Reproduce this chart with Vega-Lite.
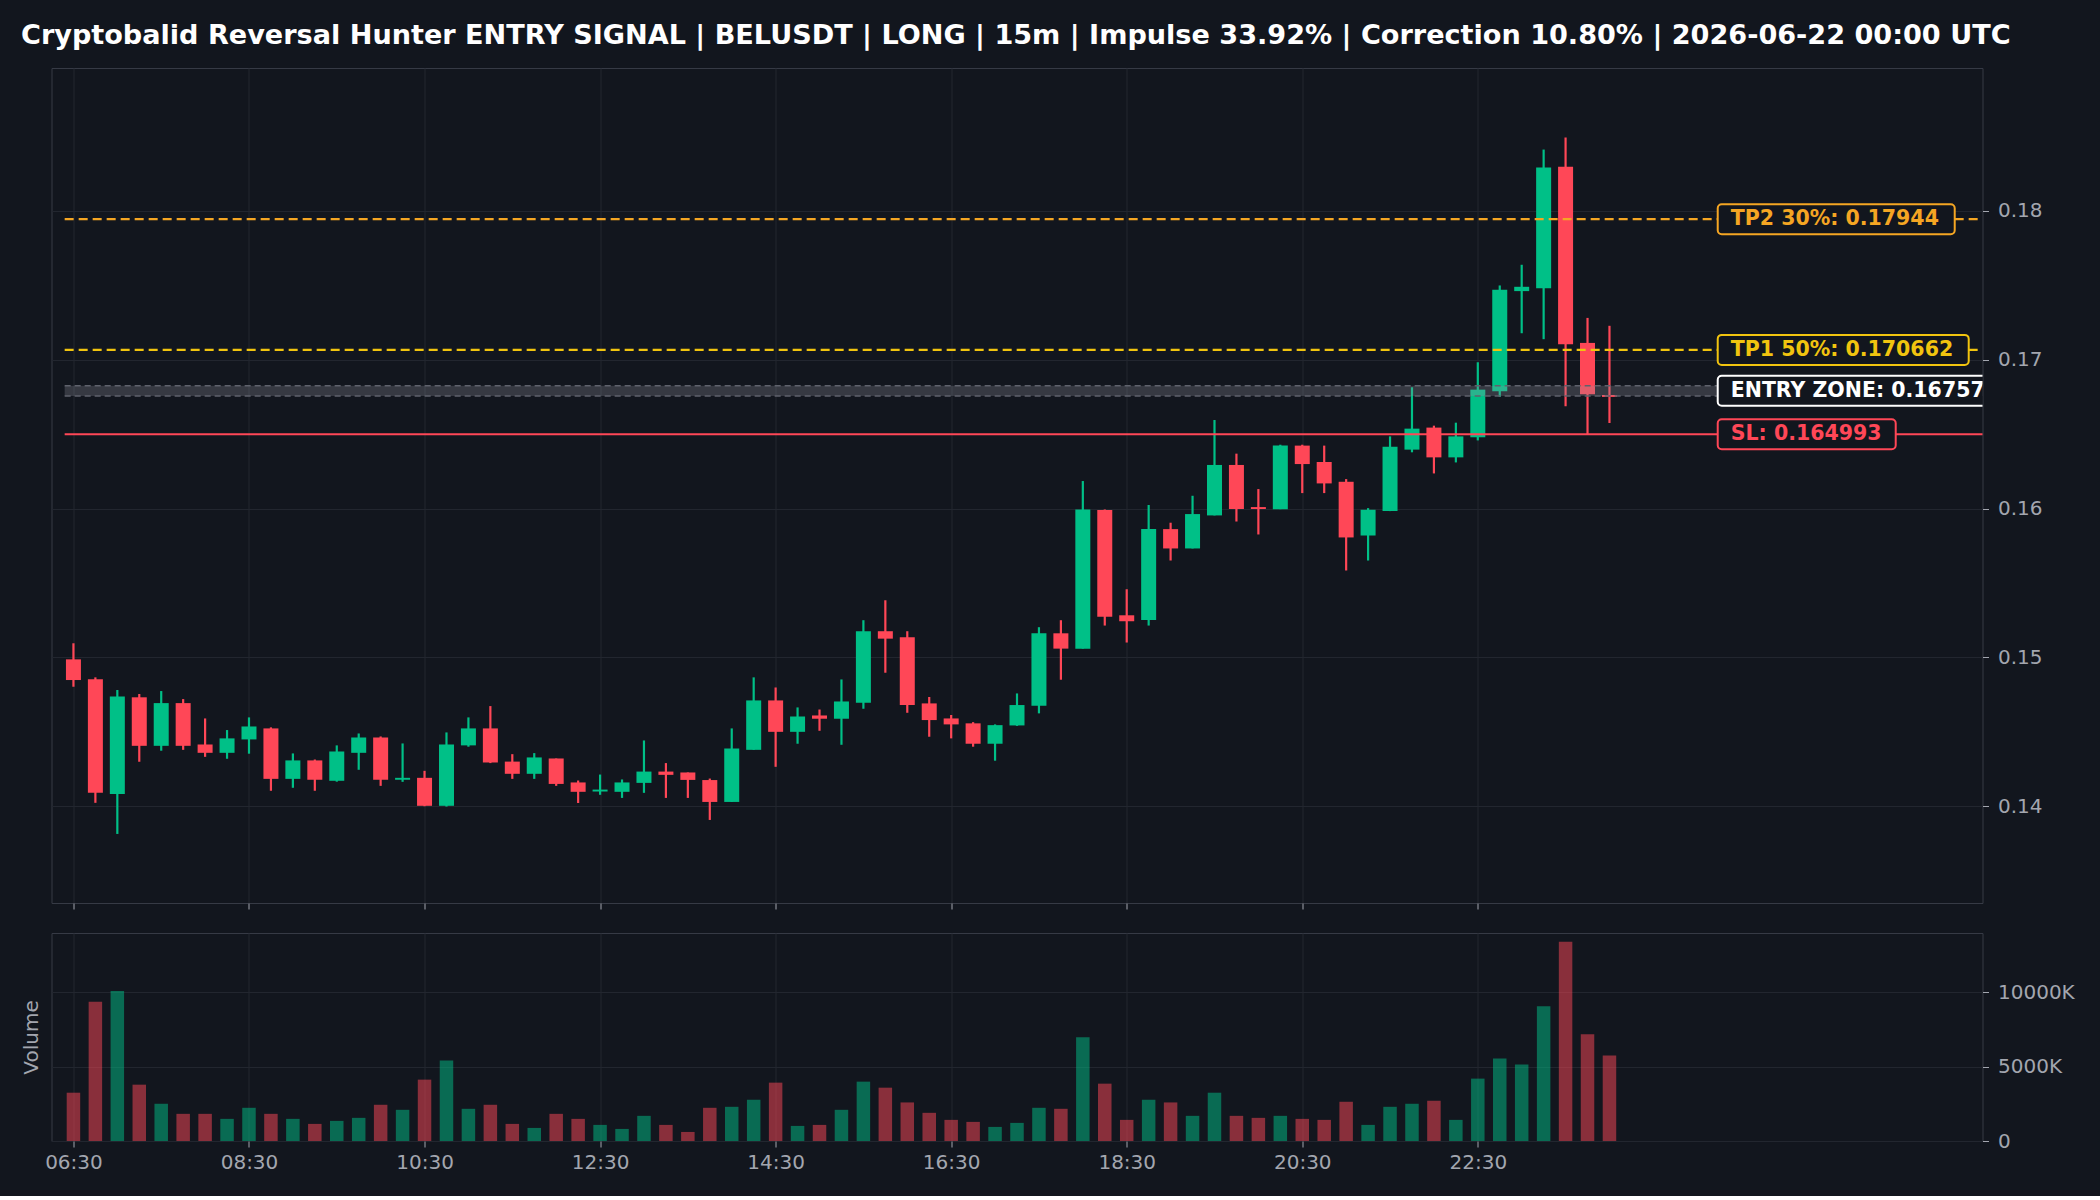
{
  "$schema": "https://vega.github.io/schema/vega-lite/v6.json",
  "background": "#12161e",
  "padding": {"left": 20.5, "top": 22, "right": 24.5, "bottom": 23},
  "bounds": "flush",
  "spacing": 30,
  "title": {
    "text": "Cryptobalid Reversal Hunter ENTRY SIGNAL | BELUSDT | LONG | 15m | Impulse 33.92% | Correction 10.80% | 2026-06-22 00:00 UTC",
    "anchor": "start",
    "frame": "bounds",
    "font": "DejaVu Sans",
    "fontSize": 27.1,
    "fontWeight": "bold",
    "color": "#ffffff",
    "offset": 17
  },
  "config": {
    "font": "DejaVu Sans",
    "view": {"stroke": "#363a45", "strokeWidth": 1},
    "axis": {
      "labelFont": "DejaVu Sans",
      "labelFontSize": 20,
      "labelColor": "#a3a6af",
      "tickColor": "#a3a6af",
      "tickSize": 6,
      "tickWidth": 1,
      "domain": false,
      "gridColor": "#22262f",
      "gridWidth": 1,
      "titleFont": "DejaVu Sans",
      "titleFontSize": 20,
      "titleFontWeight": "normal",
      "titleColor": "#a3a6af"
    }
  },
  "datasets": {
    "candles": [
      {"t": "2026-06-21T06:30Z", "o": 0.14987, "h": 0.15095, "l": 0.14803, "c": 0.14848, "v": 3251000},
      {"t": "2026-06-21T06:45Z", "o": 0.14853, "h": 0.14866, "l": 0.14023, "c": 0.14090, "v": 9368000},
      {"t": "2026-06-21T07:00Z", "o": 0.14083, "h": 0.14781, "l": 0.13814, "c": 0.14738, "v": 10090000},
      {"t": "2026-06-21T07:15Z", "o": 0.14732, "h": 0.14754, "l": 0.14299, "c": 0.14406, "v": 3792000},
      {"t": "2026-06-21T07:30Z", "o": 0.14406, "h": 0.14774, "l": 0.14373, "c": 0.14693, "v": 2506000},
      {"t": "2026-06-21T07:45Z", "o": 0.14693, "h": 0.14720, "l": 0.14379, "c": 0.14406, "v": 1828000},
      {"t": "2026-06-21T08:00Z", "o": 0.14415, "h": 0.14590, "l": 0.14332, "c": 0.14359, "v": 1828000},
      {"t": "2026-06-21T08:15Z", "o": 0.14359, "h": 0.14512, "l": 0.14319, "c": 0.14456, "v": 1490000},
      {"t": "2026-06-21T08:30Z", "o": 0.14449, "h": 0.14597, "l": 0.14353, "c": 0.14536, "v": 2235000},
      {"t": "2026-06-21T08:45Z", "o": 0.14523, "h": 0.14530, "l": 0.14104, "c": 0.14184, "v": 1828000},
      {"t": "2026-06-21T09:00Z", "o": 0.14184, "h": 0.14355, "l": 0.14124, "c": 0.14308, "v": 1490000},
      {"t": "2026-06-21T09:15Z", "o": 0.14308, "h": 0.14314, "l": 0.14104, "c": 0.14178, "v": 1151000},
      {"t": "2026-06-21T09:30Z", "o": 0.14171, "h": 0.14409, "l": 0.14165, "c": 0.14368, "v": 1354000},
      {"t": "2026-06-21T09:45Z", "o": 0.14359, "h": 0.14489, "l": 0.14245, "c": 0.14462, "v": 1558000},
      {"t": "2026-06-21T10:00Z", "o": 0.14462, "h": 0.14469, "l": 0.14137, "c": 0.14178, "v": 2438000},
      {"t": "2026-06-21T10:15Z", "o": 0.14178, "h": 0.14422, "l": 0.14164, "c": 0.14191, "v": 2099000},
      {"t": "2026-06-21T10:30Z", "o": 0.14191, "h": 0.14238, "l": 0.14000, "c": 0.14003, "v": 4131000},
      {"t": "2026-06-21T10:45Z", "o": 0.14003, "h": 0.14496, "l": 0.13998, "c": 0.14415, "v": 5418000},
      {"t": "2026-06-21T11:00Z", "o": 0.14409, "h": 0.14597, "l": 0.14400, "c": 0.14523, "v": 2167000},
      {"t": "2026-06-21T11:15Z", "o": 0.14523, "h": 0.14673, "l": 0.14290, "c": 0.14294, "v": 2438000},
      {"t": "2026-06-21T11:30Z", "o": 0.14300, "h": 0.14350, "l": 0.14184, "c": 0.14218, "v": 1151000},
      {"t": "2026-06-21T11:45Z", "o": 0.14218, "h": 0.14357, "l": 0.14184, "c": 0.14328, "v": 880000},
      {"t": "2026-06-21T12:00Z", "o": 0.14321, "h": 0.14321, "l": 0.14137, "c": 0.14150, "v": 1828000},
      {"t": "2026-06-21T12:15Z", "o": 0.14160, "h": 0.14173, "l": 0.14022, "c": 0.14097, "v": 1490000},
      {"t": "2026-06-21T12:30Z", "o": 0.14099, "h": 0.14213, "l": 0.14077, "c": 0.14112, "v": 1084000},
      {"t": "2026-06-21T12:45Z", "o": 0.14097, "h": 0.14180, "l": 0.14056, "c": 0.14160, "v": 813000},
      {"t": "2026-06-21T13:00Z", "o": 0.14157, "h": 0.14442, "l": 0.14090, "c": 0.14233, "v": 1693000},
      {"t": "2026-06-21T13:15Z", "o": 0.14233, "h": 0.14290, "l": 0.14056, "c": 0.14211, "v": 1084000},
      {"t": "2026-06-21T13:30Z", "o": 0.14227, "h": 0.14227, "l": 0.14056, "c": 0.14177, "v": 609000},
      {"t": "2026-06-21T13:45Z", "o": 0.14176, "h": 0.14186, "l": 0.13908, "c": 0.14029, "v": 2235000},
      {"t": "2026-06-21T14:00Z", "o": 0.14029, "h": 0.14523, "l": 0.14029, "c": 0.14388, "v": 2302000},
      {"t": "2026-06-21T14:15Z", "o": 0.14379, "h": 0.14866, "l": 0.14379, "c": 0.14711, "v": 2777000},
      {"t": "2026-06-21T14:30Z", "o": 0.14711, "h": 0.14798, "l": 0.14265, "c": 0.14500, "v": 3928000},
      {"t": "2026-06-21T14:45Z", "o": 0.14500, "h": 0.14664, "l": 0.14420, "c": 0.14603, "v": 1016000},
      {"t": "2026-06-21T15:00Z", "o": 0.14610, "h": 0.14650, "l": 0.14507, "c": 0.14588, "v": 1084000},
      {"t": "2026-06-21T15:15Z", "o": 0.14588, "h": 0.14852, "l": 0.14413, "c": 0.14704, "v": 2099000},
      {"t": "2026-06-21T15:30Z", "o": 0.14695, "h": 0.15250, "l": 0.14655, "c": 0.15175, "v": 3995000},
      {"t": "2026-06-21T15:45Z", "o": 0.15176, "h": 0.15384, "l": 0.14897, "c": 0.15126, "v": 3589000},
      {"t": "2026-06-21T16:00Z", "o": 0.15135, "h": 0.15176, "l": 0.14628, "c": 0.14680, "v": 2596000},
      {"t": "2026-06-21T16:15Z", "o": 0.14691, "h": 0.14734, "l": 0.14467, "c": 0.14579, "v": 1896000},
      {"t": "2026-06-21T16:30Z", "o": 0.14590, "h": 0.14613, "l": 0.14456, "c": 0.14550, "v": 1422000},
      {"t": "2026-06-21T16:45Z", "o": 0.14557, "h": 0.14565, "l": 0.14400, "c": 0.14420, "v": 1287000},
      {"t": "2026-06-21T17:00Z", "o": 0.14420, "h": 0.14550, "l": 0.14306, "c": 0.14545, "v": 948000},
      {"t": "2026-06-21T17:15Z", "o": 0.14543, "h": 0.14758, "l": 0.14540, "c": 0.14680, "v": 1219000},
      {"t": "2026-06-21T17:30Z", "o": 0.14676, "h": 0.15203, "l": 0.14624, "c": 0.15162, "v": 2235000},
      {"t": "2026-06-21T17:45Z", "o": 0.15162, "h": 0.15250, "l": 0.14850, "c": 0.15059, "v": 2167000},
      {"t": "2026-06-21T18:00Z", "o": 0.15059, "h": 0.16185, "l": 0.15059, "c": 0.15994, "v": 6975000},
      {"t": "2026-06-21T18:15Z", "o": 0.15990, "h": 0.15994, "l": 0.15214, "c": 0.15274, "v": 3860000},
      {"t": "2026-06-21T18:30Z", "o": 0.15283, "h": 0.15458, "l": 0.15100, "c": 0.15243, "v": 1422000},
      {"t": "2026-06-21T18:45Z", "o": 0.15252, "h": 0.16024, "l": 0.15214, "c": 0.15862, "v": 2777000},
      {"t": "2026-06-21T19:00Z", "o": 0.15862, "h": 0.15905, "l": 0.15651, "c": 0.15732, "v": 2596000},
      {"t": "2026-06-21T19:15Z", "o": 0.15732, "h": 0.16086, "l": 0.15732, "c": 0.15963, "v": 1693000},
      {"t": "2026-06-21T19:30Z", "o": 0.15954, "h": 0.16595, "l": 0.15954, "c": 0.16293, "v": 3251000},
      {"t": "2026-06-21T19:45Z", "o": 0.16293, "h": 0.16369, "l": 0.15913, "c": 0.15997, "v": 1693000},
      {"t": "2026-06-21T20:00Z", "o": 0.16010, "h": 0.16131, "l": 0.15826, "c": 0.15997, "v": 1558000},
      {"t": "2026-06-21T20:15Z", "o": 0.15996, "h": 0.16429, "l": 0.15996, "c": 0.16423, "v": 1693000},
      {"t": "2026-06-21T20:30Z", "o": 0.16423, "h": 0.16429, "l": 0.16104, "c": 0.16299, "v": 1490000},
      {"t": "2026-06-21T20:45Z", "o": 0.16313, "h": 0.16423, "l": 0.16104, "c": 0.16169, "v": 1422000},
      {"t": "2026-06-21T21:00Z", "o": 0.16180, "h": 0.16198, "l": 0.15584, "c": 0.15806, "v": 2641000},
      {"t": "2026-06-21T21:15Z", "o": 0.15819, "h": 0.16003, "l": 0.15651, "c": 0.15992, "v": 1084000},
      {"t": "2026-06-21T21:30Z", "o": 0.15983, "h": 0.16485, "l": 0.15983, "c": 0.16416, "v": 2302000},
      {"t": "2026-06-21T21:45Z", "o": 0.16396, "h": 0.16815, "l": 0.16378, "c": 0.16537, "v": 2506000},
      {"t": "2026-06-21T22:00Z", "o": 0.16544, "h": 0.16557, "l": 0.16236, "c": 0.16344, "v": 2709000},
      {"t": "2026-06-21T22:15Z", "o": 0.16344, "h": 0.16577, "l": 0.16310, "c": 0.16485, "v": 1422000},
      {"t": "2026-06-21T22:30Z", "o": 0.16479, "h": 0.16983, "l": 0.16458, "c": 0.16799, "v": 4199000},
      {"t": "2026-06-21T22:45Z", "o": 0.16788, "h": 0.17499, "l": 0.16750, "c": 0.17470, "v": 5553000},
      {"t": "2026-06-21T23:00Z", "o": 0.17461, "h": 0.17638, "l": 0.17178, "c": 0.17490, "v": 5147000},
      {"t": "2026-06-21T23:15Z", "o": 0.17481, "h": 0.18412, "l": 0.17138, "c": 0.18291, "v": 9074000},
      {"t": "2026-06-21T23:30Z", "o": 0.18297, "h": 0.18493, "l": 0.16687, "c": 0.17104, "v": 13409000},
      {"t": "2026-06-21T23:45Z", "o": 0.17113, "h": 0.17281, "l": 0.16499, "c": 0.16768, "v": 7178000},
      {"t": "2026-06-22T00:00Z", "o": 0.16763, "h": 0.17228, "l": 0.16575, "c": 0.16750, "v": 5756000}
    ],
    "levels": [
      {"level": "TP2", "price": 0.17944, "label": "TP2 30%: 0.17944"},
      {"level": "TP1", "price": 0.170662, "label": "TP1 50%: 0.170662"},
      {"level": "ENTRY", "price": 0.167915, "label": "ENTRY ZONE: 0.16757 - 0.16826"},
      {"level": "SL", "price": 0.164993, "label": "SL: 0.164993"}
    ],
    "zone": [
      {"lo": 0.16757, "hi": 0.16826}
    ]
  },
  "vconcat": [
    {
      "width": 1931,
      "height": 835,
      "layer": [
        {
          "data": {"name": "candles"},
          "mark": {"type": "rule", "strokeWidth": 2.2},
          "encoding": {
            "x": {
              "field": "t", "type": "temporal",
              "scale": {"type": "utc", "padding": 0, "domain": [
                {"year": 2026, "month": 6, "date": 21, "hours": 6, "minutes": 15, "utc": true},
                {"year": 2026, "month": 6, "date": 22, "hours": 4, "minutes": 15, "utc": true}]},
              "axis": {
                "title": null, "labels": false, "grid": true, "ticks": true,
                "values": [
                  {"year": 2026, "month": 6, "date": 21, "hours": 6, "minutes": 30, "utc": true},
                  {"year": 2026, "month": 6, "date": 21, "hours": 8, "minutes": 30, "utc": true},
                  {"year": 2026, "month": 6, "date": 21, "hours": 10, "minutes": 30, "utc": true},
                  {"year": 2026, "month": 6, "date": 21, "hours": 12, "minutes": 30, "utc": true},
                  {"year": 2026, "month": 6, "date": 21, "hours": 14, "minutes": 30, "utc": true},
                  {"year": 2026, "month": 6, "date": 21, "hours": 16, "minutes": 30, "utc": true},
                  {"year": 2026, "month": 6, "date": 21, "hours": 18, "minutes": 30, "utc": true},
                  {"year": 2026, "month": 6, "date": 21, "hours": 20, "minutes": 30, "utc": true},
                  {"year": 2026, "month": 6, "date": 21, "hours": 22, "minutes": 30, "utc": true}
                ]
              }
            },
            "y": {
              "field": "l", "type": "quantitative",
              "scale": {"domain": [0.1335, 0.1896], "nice": false, "zero": false},
              "axis": {"orient": "right", "title": null, "values": [0.14, 0.15, 0.16, 0.17, 0.18], "format": ".2f", "grid": true, "labelPadding": 9}
            },
            "y2": {"field": "h"},
            "color": {"condition": {"test": "datum.c >= datum.o", "value": "#00c087"}, "value": "#ff4757"}
          }
        },
        {
          "data": {"name": "candles"},
          "mark": {"type": "bar", "width": 15},
          "encoding": {
            "x": {"field": "t", "type": "temporal", "axis": {"title": null}},
            "y": {"field": "o", "type": "quantitative", "axis": {"title": null}},
            "y2": {"field": "c"},
            "color": {"condition": {"test": "datum.c >= datum.o", "value": "#00c087"}, "value": "#ff4757"}
          }
        },
        {
          "data": {"name": "zone"},
          "mark": {"type": "rect", "fill": "#9598a1", "opacity": 0.28},
          "encoding": {
            "x": {"datum": {"year": 2026, "month": 6, "date": 21, "hours": 6, "minutes": 24, "utc": true}, "type": "temporal", "axis": {"title": null}},
            "x2": {"datum": {"year": 2026, "month": 6, "date": 22, "hours": 4, "minutes": 15, "utc": true}},
            "y": {"field": "lo", "type": "quantitative", "axis": {"title": null}},
            "y2": {"field": "hi"}
          }
        },
        {
          "data": {"name": "zone"},
          "transform": [{"fold": ["lo", "hi"], "as": ["edge", "price"]}],
          "mark": {"type": "rule", "stroke": "#5f626c", "strokeWidth": 1.5, "strokeDash": [6, 4]},
          "encoding": {
            "x": {"datum": {"year": 2026, "month": 6, "date": 21, "hours": 6, "minutes": 24, "utc": true}, "type": "temporal", "axis": {"title": null}},
            "x2": {"datum": {"year": 2026, "month": 6, "date": 22, "hours": 4, "minutes": 15, "utc": true}},
            "y": {"field": "price", "type": "quantitative", "axis": {"title": null}}
          }
        },
        {
          "data": {"name": "levels"},
          "transform": [{"filter": "datum.level === 'TP1' || datum.level === 'TP2'"}],
          "mark": {"type": "rule", "strokeWidth": 2.2, "strokeDash": [9, 5]},
          "encoding": {
            "x": {"datum": {"year": 2026, "month": 6, "date": 21, "hours": 6, "minutes": 24, "utc": true}, "type": "temporal", "axis": {"title": null}},
            "x2": {"datum": {"year": 2026, "month": 6, "date": 22, "hours": 4, "minutes": 15, "utc": true}},
            "y": {"field": "price", "type": "quantitative", "axis": {"title": null}},
            "color": {"field": "level", "type": "nominal", "scale": {"domain": ["TP2", "TP1", "ENTRY", "SL"], "range": ["#f5a623", "#f1c40f", "#ffffff", "#ff4757"]}, "legend": null}
          }
        },
        {
          "data": {"name": "levels"},
          "transform": [{"filter": "datum.level === 'SL'"}],
          "mark": {"type": "rule", "strokeWidth": 2.2},
          "encoding": {
            "x": {"datum": {"year": 2026, "month": 6, "date": 21, "hours": 6, "minutes": 24, "utc": true}, "type": "temporal", "axis": {"title": null}},
            "x2": {"datum": {"year": 2026, "month": 6, "date": 22, "hours": 4, "minutes": 15, "utc": true}},
            "y": {"field": "price", "type": "quantitative", "axis": {"title": null}},
            "color": {"field": "level", "type": "nominal", "legend": null}
          }
        },
        {
          "data": {"name": "levels"},
          "transform": [{"filter": "datum.level === 'TP2'"}],
          "mark": {"type": "rect", "fill": "#12161e", "stroke": "#f5a623", "strokeWidth": 2, "cornerRadius": 4, "x2Offset": 237, "yOffset": -15, "y2Offset": 15},
          "encoding": {
            "x": {"datum": {"year": 2026, "month": 6, "date": 22, "hours": 1, "minutes": 14, "utc": true}, "type": "temporal", "axis": {"title": null}},
            "x2": {"datum": {"year": 2026, "month": 6, "date": 22, "hours": 1, "minutes": 14, "utc": true}},
            "y": {"field": "price", "type": "quantitative", "axis": {"title": null}},
            "y2": {"field": "price"}
          }
        },
        {
          "data": {"name": "levels"},
          "transform": [{"filter": "datum.level === 'TP1'"}],
          "mark": {"type": "rect", "fill": "#12161e", "stroke": "#f1c40f", "strokeWidth": 2, "cornerRadius": 4, "x2Offset": 251, "yOffset": -15, "y2Offset": 15},
          "encoding": {
            "x": {"datum": {"year": 2026, "month": 6, "date": 22, "hours": 1, "minutes": 14, "utc": true}, "type": "temporal", "axis": {"title": null}},
            "x2": {"datum": {"year": 2026, "month": 6, "date": 22, "hours": 1, "minutes": 14, "utc": true}},
            "y": {"field": "price", "type": "quantitative", "axis": {"title": null}},
            "y2": {"field": "price"}
          }
        },
        {
          "data": {"name": "levels"},
          "transform": [{"filter": "datum.level === 'ENTRY'"}],
          "mark": {"type": "rect", "fill": "#12161e", "stroke": "#ffffff", "strokeWidth": 2, "cornerRadius": 4, "x2Offset": 400, "yOffset": -15, "y2Offset": 15, "clip": true},
          "encoding": {
            "x": {"datum": {"year": 2026, "month": 6, "date": 22, "hours": 1, "minutes": 14, "utc": true}, "type": "temporal", "axis": {"title": null}},
            "x2": {"datum": {"year": 2026, "month": 6, "date": 22, "hours": 1, "minutes": 14, "utc": true}},
            "y": {"field": "price", "type": "quantitative", "axis": {"title": null}},
            "y2": {"field": "price"}
          }
        },
        {
          "data": {"name": "levels"},
          "transform": [{"filter": "datum.level === 'SL'"}],
          "mark": {"type": "rect", "fill": "#12161e", "stroke": "#ff4757", "strokeWidth": 2, "cornerRadius": 4, "x2Offset": 178, "yOffset": -15, "y2Offset": 15},
          "encoding": {
            "x": {"datum": {"year": 2026, "month": 6, "date": 22, "hours": 1, "minutes": 14, "utc": true}, "type": "temporal", "axis": {"title": null}},
            "x2": {"datum": {"year": 2026, "month": 6, "date": 22, "hours": 1, "minutes": 14, "utc": true}},
            "y": {"field": "price", "type": "quantitative", "axis": {"title": null}},
            "y2": {"field": "price"}
          }
        },
        {
          "data": {"name": "levels"},
          "mark": {"type": "text", "align": "left", "baseline": "middle", "dx": 13, "fontSize": 20.5, "fontWeight": "bold", "font": "DejaVu Sans", "clip": true},
          "encoding": {
            "x": {"datum": {"year": 2026, "month": 6, "date": 22, "hours": 1, "minutes": 14, "utc": true}, "type": "temporal", "axis": {"title": null}},
            "y": {"field": "price", "type": "quantitative", "axis": {"title": null}},
            "text": {"field": "label"},
            "color": {"field": "level", "type": "nominal", "legend": null}
          }
        }
      ]
    },
    {
      "width": 1931,
      "height": 208,
      "data": {"name": "candles"},
      "layer": [
        {
          "mark": {"type": "bar", "width": 13.5, "opacity": 0.5},
          "encoding": {
            "x": {
              "field": "t", "type": "temporal",
              "scale": {"type": "utc", "padding": 0, "domain": [
                {"year": 2026, "month": 6, "date": 21, "hours": 6, "minutes": 15, "utc": true},
                {"year": 2026, "month": 6, "date": 22, "hours": 4, "minutes": 15, "utc": true}]},
              "axis": {
                "title": null, "format": "%H:%M", "grid": true, "labelFlush": false, "labelPadding": 5,
                "values": [
                  {"year": 2026, "month": 6, "date": 21, "hours": 6, "minutes": 30, "utc": true},
                  {"year": 2026, "month": 6, "date": 21, "hours": 8, "minutes": 30, "utc": true},
                  {"year": 2026, "month": 6, "date": 21, "hours": 10, "minutes": 30, "utc": true},
                  {"year": 2026, "month": 6, "date": 21, "hours": 12, "minutes": 30, "utc": true},
                  {"year": 2026, "month": 6, "date": 21, "hours": 14, "minutes": 30, "utc": true},
                  {"year": 2026, "month": 6, "date": 21, "hours": 16, "minutes": 30, "utc": true},
                  {"year": 2026, "month": 6, "date": 21, "hours": 18, "minutes": 30, "utc": true},
                  {"year": 2026, "month": 6, "date": 21, "hours": 20, "minutes": 30, "utc": true},
                  {"year": 2026, "month": 6, "date": 21, "hours": 22, "minutes": 30, "utc": true}
                ]
              }
            },
            "y": {
              "field": "v", "type": "quantitative",
              "scale": {"domain": [0, 14000000], "nice": false},
              "axis": {"orient": "right", "title": null, "values": [0, 5000000, 10000000], "grid": true, "labelPadding": 9,
                       "labelExpr": "datum.value === 0 ? '0' : format(datum.value / 1000, 'd') + 'K'"}
            },
            "color": {"condition": {"test": "datum.c >= datum.o", "value": "#00c087"}, "value": "#ff4757"}
          }
        },
        {
          "mark": {"type": "rule", "opacity": 0},
          "encoding": {
            "y": {"datum": 0, "type": "quantitative",
                  "axis": {"orient": "left", "title": "Volume", "labels": false, "ticks": false, "grid": false, "domain": false, "titlePadding": 10}}
          }
        }
      ],
      "resolve": {"axis": {"y": "independent"}}
    }
  ]
}
